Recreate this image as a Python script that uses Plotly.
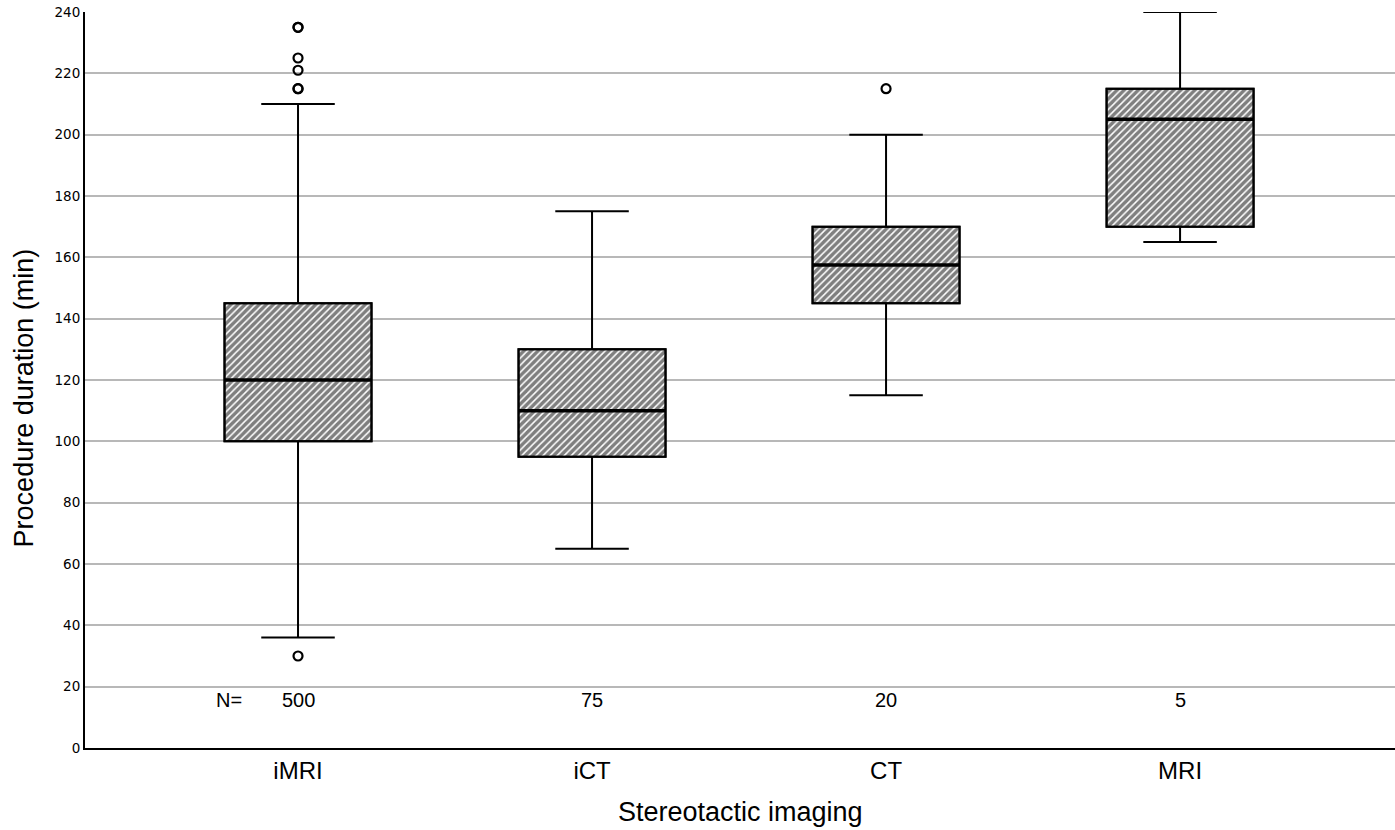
import plotly.graph_objects as go

categories = ["iMRI", "iCT", "CT", "MRI"]
q1 = [100, 95, 145, 170]
median = [120, 110, 157.5, 205]
q3 = [145, 130, 170, 215]
lower = [36, 65, 115, 165]
upper = [210, 175, 200, 240]
n_counts = ["500", "75", "20", "5"]
outlier_cat = [0, 0, 0, 0, 0, 0, 0, 2]
outlier_val = [235, 235, 225, 221, 215, 215, 30, 215]
y_ticks = [0, 20, 40, 60, 80, 100, 120, 140, 160, 180, 200, 220, 240]

xpos = list(range(len(categories)))
box_w = 0.5
FONT = "Liberation Sans, Arial"

fig = go.Figure()

# hatched box fill
fig.add_trace(go.Bar(
    x=xpos, y=[b - a for a, b in zip(q1, q3)], base=q1, width=box_w,
    marker=dict(color="white", line=dict(color="black", width=2),
                pattern=dict(shape="/", size=5, solidity=0.7,
                             fgcolor="black", bgcolor="white")),
    hoverinfo="skip", showlegend=False,
))

fig.add_trace(go.Box(
    x=xpos, q1=q1, median=median, q3=q3, lowerfence=lower, upperfence=upper,
    width=box_w, whiskerwidth=0.5, fillcolor="rgba(0,0,0,0)",
    line=dict(color="black", width=2), boxpoints=False, showlegend=False,
))

# thicker median lines
mx, my = [], []
for i, m in zip(xpos, median):
    mx += [i - box_w / 2, i + box_w / 2, None]
    my += [m, m, None]
fig.add_trace(go.Scatter(x=mx, y=my, mode="lines",
                         line=dict(color="black", width=3.5),
                         hoverinfo="skip", showlegend=False))

fig.add_trace(go.Scatter(
    x=outlier_cat, y=outlier_val, mode="markers",
    marker=dict(symbol="circle-open", size=9, color="black",
                line=dict(color="black", width=2.2)),
    showlegend=False,
))

for i, n in enumerate(n_counts):
    fig.add_annotation(x=xpos[i], y=15.5, text=n, showarrow=False,
                       font=dict(family=FONT, size=20, color="black"))
fig.add_annotation(x=-0.235, y=15.5, text="N=", showarrow=False,
                   font=dict(family=FONT, size=20, color="black"))

# axis titles
fig.add_annotation(text="Stereotactic imaging", xref="paper", yref="paper",
                   x=0.5, y=0, yshift=-64, xanchor="center", yanchor="middle",
                   showarrow=False, font=dict(family=FONT, size=27, color="black"))
fig.add_annotation(text="Procedure duration (min)", xref="paper", yref="y",
                   x=0, y=114, xshift=-61, xanchor="center", yanchor="middle",
                   textangle=-90, showarrow=False,
                   font=dict(family=FONT, size=27, color="black"))

fig.update_layout(
    width=1395, height=830,
    margin=dict(l=85, r=0, t=12, b=82),
    plot_bgcolor="white", paper_bgcolor="white",
    barmode="overlay",
    xaxis=dict(range=[-0.7245, 3.731], tickvals=xpos, ticktext=categories,
               automargin=False,
               showgrid=False, zeroline=False, showline=True, linecolor="black",
               linewidth=2, ticks="", tickfont=dict(family=FONT, size=24, color="black")),
    yaxis=dict(range=[0, 240], tickvals=y_ticks, showgrid=True, gridcolor="#b8b8b8",
               automargin=False,
               gridwidth=2, zeroline=False, showline=True, linecolor="black", linewidth=2,
               ticks="", tickfont=dict(family="DejaVu Sans", size=13.5, color="black")),
)

fig.write_html("out.html", config={"displayModeBar": False},
               post_script="document.body.style.margin='0';document.body.style.overflow='hidden';")
